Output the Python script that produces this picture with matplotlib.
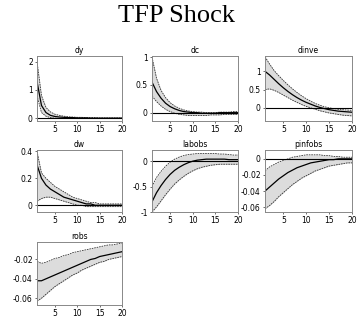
import matplotlib
matplotlib.use("Agg")
import matplotlib.pyplot as plt
import numpy as np

horizon = list(range(1, 21))
titles = ["dy", "dc", "dinve", "dw", "labobs", "pinfobs", "robs"]

dy_med = [1.30, 0.45, 0.20, 0.10, 0.06, 0.04, 0.03, 0.02, 0.02, 0.01, 0.01, 0.01, 0.0, 0.0, 0.0, 0.0, 0.0, 0.0, 0.0, 0.0]
dy_hi = [2.00, 0.80, 0.38, 0.22, 0.14, 0.10, 0.07, 0.05, 0.04, 0.03, 0.03, 0.02, 0.02, 0.02, 0.01, 0.01, 0.01, 0.01, 0.01, 0.01]
dy_lo = [0.80, 0.20, 0.07, 0.02, 0.0, -0.01, -0.01, -0.01, -0.01, -0.01, -0.01, -0.01, -0.01, -0.01, -0.01, -0.01, -0.01, -0.01, -0.01, -0.01]

dc_med = [0.55, 0.38, 0.26, 0.17, 0.11, 0.07, 0.04, 0.02, 0.01, 0.0, 0.0, -0.01, -0.01, -0.01, -0.01, 0.0, 0.0, 0.0, 0.0, 0.0]
dc_hi = [1.00, 0.62, 0.40, 0.27, 0.18, 0.12, 0.08, 0.05, 0.03, 0.02, 0.01, 0.01, 0.0, 0.0, 0.0, 0.01, 0.01, 0.01, 0.02, 0.02]
dc_lo = [0.30, 0.20, 0.12, 0.06, 0.02, -0.01, -0.03, -0.04, -0.05, -0.05, -0.05, -0.05, -0.05, -0.04, -0.04, -0.04, -0.03, -0.03, -0.03, -0.03]

dinve_med = [1.00, 0.90, 0.78, 0.66, 0.55, 0.45, 0.36, 0.28, 0.21, 0.15, 0.10, 0.05, 0.01, -0.02, -0.05, -0.07, -0.09, -0.10, -0.11, -0.12]
dinve_hi = [1.40, 1.20, 1.02, 0.88, 0.75, 0.63, 0.52, 0.42, 0.33, 0.25, 0.18, 0.12, 0.07, 0.03, 0.0, -0.02, -0.04, -0.05, -0.06, -0.07]
dinve_lo = [0.50, 0.52, 0.48, 0.42, 0.35, 0.28, 0.21, 0.15, 0.09, 0.04, 0.0, -0.04, -0.08, -0.11, -0.14, -0.16, -0.18, -0.20, -0.21, -0.22]

dw_med = [0.30, 0.20, 0.15, 0.12, 0.10, 0.08, 0.06, 0.05, 0.04, 0.03, 0.02, 0.01, 0.01, 0.0, 0.0, 0.0, 0.0, 0.0, 0.0, 0.0]
dw_hi = [0.40, 0.24, 0.20, 0.17, 0.14, 0.12, 0.10, 0.08, 0.06, 0.05, 0.04, 0.03, 0.02, 0.02, 0.01, 0.01, 0.01, 0.01, 0.01, 0.01]
dw_lo = [0.03, 0.05, 0.06, 0.06, 0.05, 0.04, 0.03, 0.02, 0.01, 0.0, 0.0, -0.01, -0.01, -0.01, -0.01, -0.01, -0.01, -0.01, -0.01, -0.01]

lab_med = [-0.80, -0.62, -0.48, -0.36, -0.26, -0.18, -0.12, -0.07, -0.03, 0.0, 0.02, 0.03, 0.04, 0.04, 0.04, 0.04, 0.04, 0.03, 0.03, 0.03]
lab_hi = [-0.50, -0.32, -0.20, -0.10, -0.02, 0.04, 0.08, 0.11, 0.13, 0.14, 0.15, 0.15, 0.15, 0.15, 0.15, 0.14, 0.14, 0.13, 0.12, 0.12]
lab_lo = [-1.00, -0.90, -0.78, -0.66, -0.55, -0.45, -0.37, -0.30, -0.24, -0.19, -0.15, -0.12, -0.10, -0.08, -0.07, -0.06, -0.06, -0.06, -0.06, -0.06]

pinf_med = [-0.040, -0.035, -0.030, -0.025, -0.021, -0.017, -0.014, -0.011, -0.009, -0.007, -0.005, -0.004, -0.003, -0.002, -0.001, -0.001, 0.0, 0.0, 0.0, 0.0]
pinf_hi = [-0.015, -0.010, -0.007, -0.004, -0.002, 0.0, 0.002, 0.003, 0.004, 0.005, 0.005, 0.005, 0.005, 0.004, 0.004, 0.003, 0.003, 0.002, 0.002, 0.002]
pinf_lo = [-0.062, -0.058, -0.053, -0.047, -0.042, -0.037, -0.032, -0.028, -0.024, -0.021, -0.018, -0.015, -0.013, -0.011, -0.009, -0.008, -0.007, -0.006, -0.005, -0.005]

robs_med = [-0.042, -0.042, -0.040, -0.038, -0.036, -0.034, -0.032, -0.030, -0.028, -0.026, -0.024, -0.022, -0.020, -0.019, -0.017, -0.016, -0.015, -0.014, -0.013, -0.012]
robs_hi = [-0.022, -0.024, -0.023, -0.021, -0.019, -0.018, -0.016, -0.015, -0.013, -0.012, -0.011, -0.010, -0.009, -0.008, -0.007, -0.006, -0.005, -0.005, -0.004, -0.003]
robs_lo = [-0.063, -0.060, -0.056, -0.052, -0.048, -0.045, -0.042, -0.039, -0.036, -0.034, -0.031, -0.029, -0.027, -0.025, -0.023, -0.022, -0.020, -0.019, -0.018, -0.017]

medians = [dy_med, dc_med, dinve_med, dw_med, lab_med, pinf_med, robs_med]
uppers = [dy_hi, dc_hi, dinve_hi, dw_hi, lab_hi, pinf_hi, robs_hi]
lowers = [dy_lo, dc_lo, dinve_lo, dw_lo, lab_lo, pinf_lo, robs_lo]

ylims = [(-0.1, 2.2), (-0.15, 1.02), (-0.36, 1.42), (-0.05, 0.41),
         (-1.0, 0.22), (-0.066, 0.011), (-0.067, -0.002)]
yticks = [[0, 1, 2], [0, 0.5, 1], [0, 0.5, 1], [0, 0.2, 0.4],
          [-1, -0.5, 0], [-0.06, -0.04, -0.02, 0], [-0.06, -0.04, -0.02]]
yticklabels = [["0", "1", "2"], ["0", "0.5", "1"], ["0", "0.5", "1"],
               ["0", "0.2", "0.4"], ["-1", "-0.5", "0"],
               ["-0.06", "-0.04", "-0.02", "0"], ["-0.06", "-0.04", "-0.02"]]

W, H = 360, 321
fig = plt.figure(figsize=(W / 100, H / 100), dpi=100)

cols = [(37, 122), (152, 238), (265, 352)]
rows = [(56, 121), (150, 212), (242, 305)]

fig.text(176 / W, 1 - 16 / H, "TFP Shock", ha="center", va="center",
         family="Liberation Serif", fontsize=19)

for i, name in enumerate(titles):
    r, c = divmod(i, 3)
    x0, x1 = cols[c]
    y0, y1 = rows[r]
    ax = fig.add_axes([x0 / W, 1 - y1 / H, (x1 - x0) / W, (y1 - y0) / H])
    ax.fill_between(horizon, lowers[i], uppers[i], color="#dcdcdc", lw=0)
    ax.plot(horizon, uppers[i], color="#333333", lw=0.6, ls=(0, (2, 1)))
    ax.plot(horizon, lowers[i], color="#333333", lw=0.6, ls=(0, (2, 1)))
    ax.plot(horizon, medians[i], color="black", lw=0.9)
    ax.axhline(0, color="black", lw=0.8)
    ax.set_xlim(1, 20)
    ax.set_ylim(*ylims[i])
    ax.set_xticks([5, 10, 15, 20])
    ax.set_yticks(yticks[i])
    ax.set_yticklabels(yticklabels[i])
    ax.tick_params(labelsize=5.5, length=1.5, width=0.4, pad=1.5)
    ax.set_title(name, fontsize=5.5, pad=2)
    for s in ax.spines.values():
        s.set_color("#888888")
        s.set_linewidth(0.7)

fig.savefig("out.png", dpi=100)
